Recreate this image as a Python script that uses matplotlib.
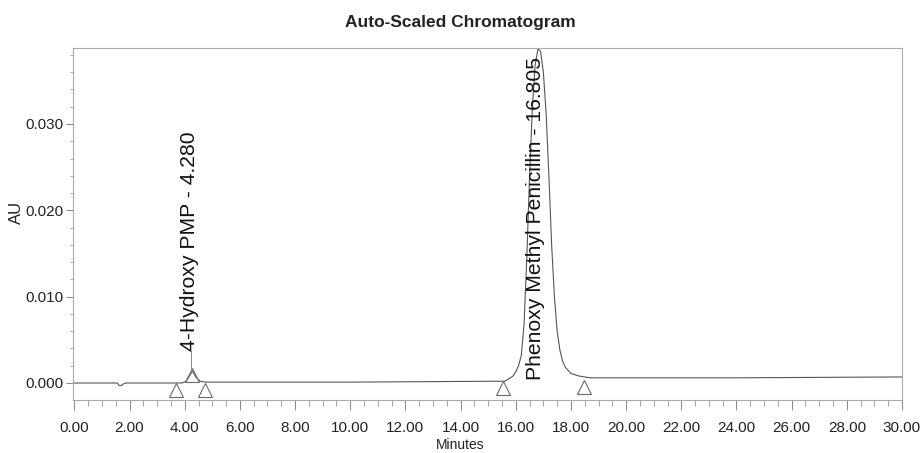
import matplotlib
matplotlib.use("Agg")
import matplotlib.pyplot as plt
from matplotlib.ticker import MultipleLocator, FormatStrFormatter

# ---- data ----
trace_time = [0.00, 1.55, 1.63, 1.70, 1.78, 1.85, 3.90, 4.05, 4.15, 4.28, 4.40, 4.55, 4.75,
              10.0, 15.00, 15.60, 15.90, 16.00, 16.10, 16.20, 16.30, 16.40, 16.50, 16.60,
              16.70, 16.805, 16.90, 17.00, 17.10, 17.20, 17.30, 17.40, 17.50, 17.60, 17.70,
              17.80, 18.00, 18.30, 18.70, 24.0, 30.00]
trace_au = [0.0000, 0.0000, -0.0003, -0.0003, -0.0001, 0.0000, 0.0000, 0.0002, 0.0007, 0.0014,
            0.0007, 0.0002, 0.0001, 0.0001, 0.0002, 0.0002, 0.0008, 0.0013, 0.0020, 0.0032,
            0.0068, 0.0145, 0.0240, 0.0318, 0.0368, 0.0387, 0.0384, 0.0360, 0.0312, 0.0240,
            0.0160, 0.0100, 0.0060, 0.0038, 0.0025, 0.0018, 0.0011, 0.0008, 0.0006, 0.0006,
            0.0007]

marker_time = [3.70, 4.28, 4.72, 15.52, 18.46]
marker_au = [-0.0008, 0.0009, -0.0008, -0.0006, -0.0005]

peak_names = ["4-Hydroxy PMP - 4.280", "Phenoxy Methyl Penicillin - 16.805"]
peak_label_x = [4.17, 16.72]
peak_label_y = [0.0037, 0.0003]
leader_x = [4.24]
leader_y0 = [0.0014]
leader_y1 = [0.0037]

xticks = [0, 2, 4, 6, 8, 10, 12, 14, 16, 18, 20, 22, 24, 26, 28, 30]
yticks = [0.000, 0.010, 0.020, 0.030]

# ---- figure ----
font = ["Liberation Sans", "DejaVu Sans"]

fig = plt.figure(figsize=(9.21, 4.53), dpi=100)
W, H = 921, 453
left, right, top, bottom = 73, 902, 48, 400
ax = fig.add_axes([left / W, 1 - bottom / H, (right - left) / W, (bottom - top) / H])

gray = "#6a6a6a"
ax.plot(trace_time, trace_au, color="#555555", lw=0.8)
ax.plot(marker_time, marker_au, linestyle="none", marker="^", ms=10,
        markerfacecolor="none", markeredgecolor=gray, markeredgewidth=0.8)
for lx, y0, y1 in zip(leader_x, leader_y0, leader_y1):
    ax.plot([lx, lx], [y0, y1], color="#888888", lw=0.7)

for name, lx, ly in zip(peak_names, peak_label_x, peak_label_y):
    ax.text(lx, ly, name, rotation=90, ha="center", va="bottom",
            fontsize=15.2, family=font, color="#111111")

ax.set_xlim(-0.05, 30)
ax.set_ylim(-0.00197, 0.0388)
ax.set_xticks(xticks)
ax.set_yticks(yticks)
ax.xaxis.set_major_formatter(FormatStrFormatter("%.2f"))
ax.yaxis.set_major_formatter(FormatStrFormatter("%.3f"))
ax.xaxis.set_minor_locator(MultipleLocator(0.5))
ax.yaxis.set_minor_locator(MultipleLocator(0.002))

for s in ax.spines.values():
    s.set_color("#aaaaaa")
    s.set_linewidth(0.8)

ax.tick_params(axis="x", which="major", direction="out", length=7, width=0.7,
               color="#888888", pad=8, labelsize=11, labelcolor="#222222")
ax.tick_params(axis="x", which="minor", direction="out", length=4, width=0.6, color="#999999")
ax.tick_params(axis="y", which="major", direction="out", length=5, width=0.7,
               color="#888888", pad=2, labelsize=11, labelcolor="#222222")
ax.tick_params(axis="y", which="minor", direction="out", length=2.5, width=0.6, color="#999999")
for lab in ax.get_xticklabels() + ax.get_yticklabels():
    lab.set_family(font)

fig.text(460 / W, 1 - 445 / H, "Minutes", fontsize=10, family=font, color="#222222",
         ha="center", va="center")
fig.text(16 / W, 1 - 212 / H, "AU", fontsize=12, family=font, color="#222222",
         ha="center", va="center", rotation=90)
fig.text(460 / W, 1 - 22 / H, "Auto-Scaled Chromatogram", fontsize=12.5, fontweight="bold",
         family=font, color="#222222", ha="center", va="center")

fig.savefig("out.png", dpi=100, facecolor="white")
